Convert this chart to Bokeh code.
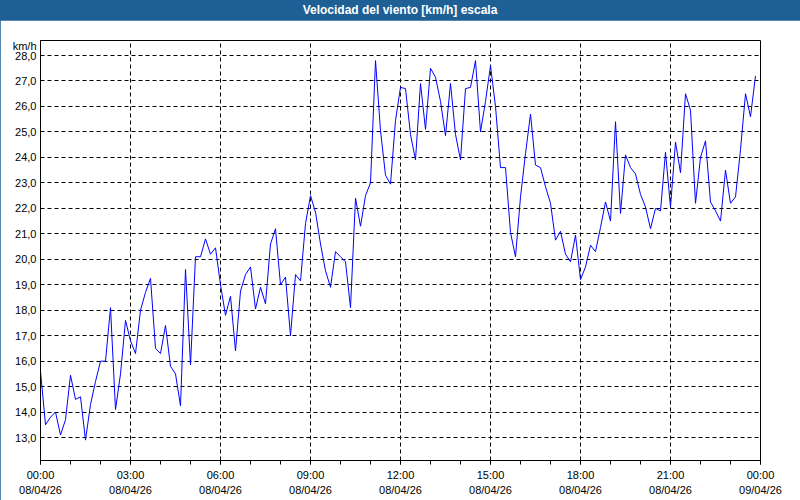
import pandas as pd
from bokeh.plotting import figure
from bokeh.models import Range1d, FixedTicker, Div
from bokeh.layouts import column
from bokeh.embed import file_html
from bokeh.resources import INLINE

title_text = "Velocidad del viento [km/h] escala"
unit_text = "km/h"

start = pd.Timestamp("2026-04-08 00:00")
end = pd.Timestamp("2026-04-09 00:00")
times = pd.date_range(start, periods=144, freq="10min")

speed = [
    15.6, 13.5, 13.8, 14.0, 13.1, 13.7, 15.45, 14.5, 14.6, 12.9,
    14.3, 15.2, 16.0, 16.0, 18.1, 14.1, 15.5, 17.6, 16.8, 16.3,
    18.0, 18.7, 19.25, 16.5, 16.3, 17.4, 15.8, 15.5, 14.25, 19.6,
    15.85, 20.1, 20.1, 20.8, 20.2, 20.45, 19.0, 17.8, 18.55, 16.4,
    18.75, 19.4, 19.7, 18.05, 18.9, 18.25, 20.6, 21.2, 19.0, 19.3,
    17.0, 19.4, 19.15, 21.4, 22.5, 21.85, 20.6, 19.55, 18.9, 20.3,
    20.1, 19.9, 18.1, 22.4, 21.3, 22.5, 23.0, 27.8, 25.05, 23.3,
    22.95, 25.45, 26.75, 26.7, 24.9, 23.9, 26.9, 25.1, 27.5, 27.15,
    26.2, 24.85, 26.9, 24.9, 23.9, 26.7, 26.75, 27.8, 25.0, 26.2,
    27.6, 26.0, 23.6, 23.6, 21.05, 20.1, 22.45, 24.15, 25.7, 23.7,
    23.6, 22.85, 22.2, 20.75, 21.1, 20.2, 19.9, 20.95, 19.2, 19.7,
    20.55, 20.3, 21.25, 22.25, 21.5, 25.4, 21.8, 24.1, 23.6, 23.35,
    22.55, 22.05, 21.2, 22.0, 21.9, 24.2, 22.05, 24.6, 23.4, 26.5,
    25.85, 22.2, 24.0, 24.65, 22.25, 21.9, 21.5, 23.5, 22.2, 22.45,
    24.3, 26.5, 25.6, 27.2,
]

y_ticks = [13, 14, 15, 16, 17, 18, 19, 20, 21, 22, 23, 24, 25, 26, 27, 28]
y_labels = ["13,0", "14,0", "15,0", "16,0", "17,0", "18,0", "19,0", "20,0",
            "21,0", "22,0", "23,0", "24,0", "25,0", "26,0", "27,0", "28,0"]
unit_pos = 28.36

x_tick_times = pd.date_range(start, end, freq="3h")
x_labels = ["00:00\n08/04/26", "03:00\n08/04/26", "06:00\n08/04/26",
            "09:00\n08/04/26", "12:00\n08/04/26", "15:00\n08/04/26",
            "18:00\n08/04/26", "21:00\n08/04/26", "00:00\n09/04/26"]
x_minor_times = pd.date_range(start, end, freq="1h")

FONT = "Liberation Sans"
BLUE_BAR = "#1e5f95"


def to_ms(ts):
    return float((ts - pd.Timestamp("1970-01-01")) / pd.Timedelta(milliseconds=1))


major_ms = [to_ms(t) for t in x_tick_times]
minor_ms = [to_ms(t) for t in x_minor_times]

p = figure(
    width=800, height=480,
    x_axis_type="datetime",
    output_backend="svg", toolbar_location=None,
    min_border_left=40, min_border_right=40,
    min_border_top=20, min_border_bottom=40,
    margin=0,
    styles={"outline": "1px solid " + BLUE_BAR, "outline-offset": "-1px"},
)
p.x_range = Range1d(start, end)
p.y_range = Range1d(12.1, 28.59)

p.line(times, speed, line_color="#0000ff", line_width=1)

p.background_fill_color = "white"
p.border_fill_color = "white"
p.outline_line_color = "black"
p.outline_line_width = 1

# x axis
xa = p.xaxis[0]
xa.ticker = FixedTicker(ticks=major_ms, minor_ticks=minor_ms)
xa.major_label_overrides = {m: lab for m, lab in zip(major_ms, x_labels)}
xa.major_label_text_font = FONT
xa.major_label_text_font_size = "11px"
xa.major_label_text_color = "#000000"
xa.major_label_text_line_height = 1.3
xa.major_label_standoff = 4
xa.major_tick_out = 4
xa.major_tick_in = 0
xa.minor_tick_out = 4
xa.minor_tick_in = 0
xa.axis_line_color = "black"
xa.major_tick_line_color = "black"
xa.minor_tick_line_color = "black"

# y axis (extra tick carries the unit label)
ya = p.yaxis[0]
ya.ticker = FixedTicker(ticks=y_ticks + [unit_pos])
overrides = {t: lab for t, lab in zip(y_ticks, y_labels)}
overrides[unit_pos] = unit_text
ya.major_label_overrides = overrides
ya.major_label_text_font = FONT
ya.major_label_text_font_size = "11px"
ya.major_label_text_color = "#000000"
ya.major_label_standoff = 4
ya.major_tick_out = 0
ya.major_tick_in = 0
ya.minor_tick_out = 0
ya.minor_tick_in = 0
ya.axis_line_color = "black"

# grids
p.ygrid[0].ticker = FixedTicker(ticks=y_ticks)
for g in (p.xgrid[0], p.ygrid[0]):
    g.grid_line_color = "black"
    g.grid_line_dash = "4 3"
    g.grid_line_width = 1

bar = Div(
    text=title_text, width=800, height=20, margin=0,
    styles={
        "background-color": BLUE_BAR,
        "color": "white",
        "font-family": FONT,
        "font-weight": "bold",
        "font-size": "12px",
        "text-align": "center",
        "line-height": "20px",
    },
)

layout = column(bar, p, spacing=0, margin=0)

open("out.html", "w").write(file_html(layout, INLINE))
